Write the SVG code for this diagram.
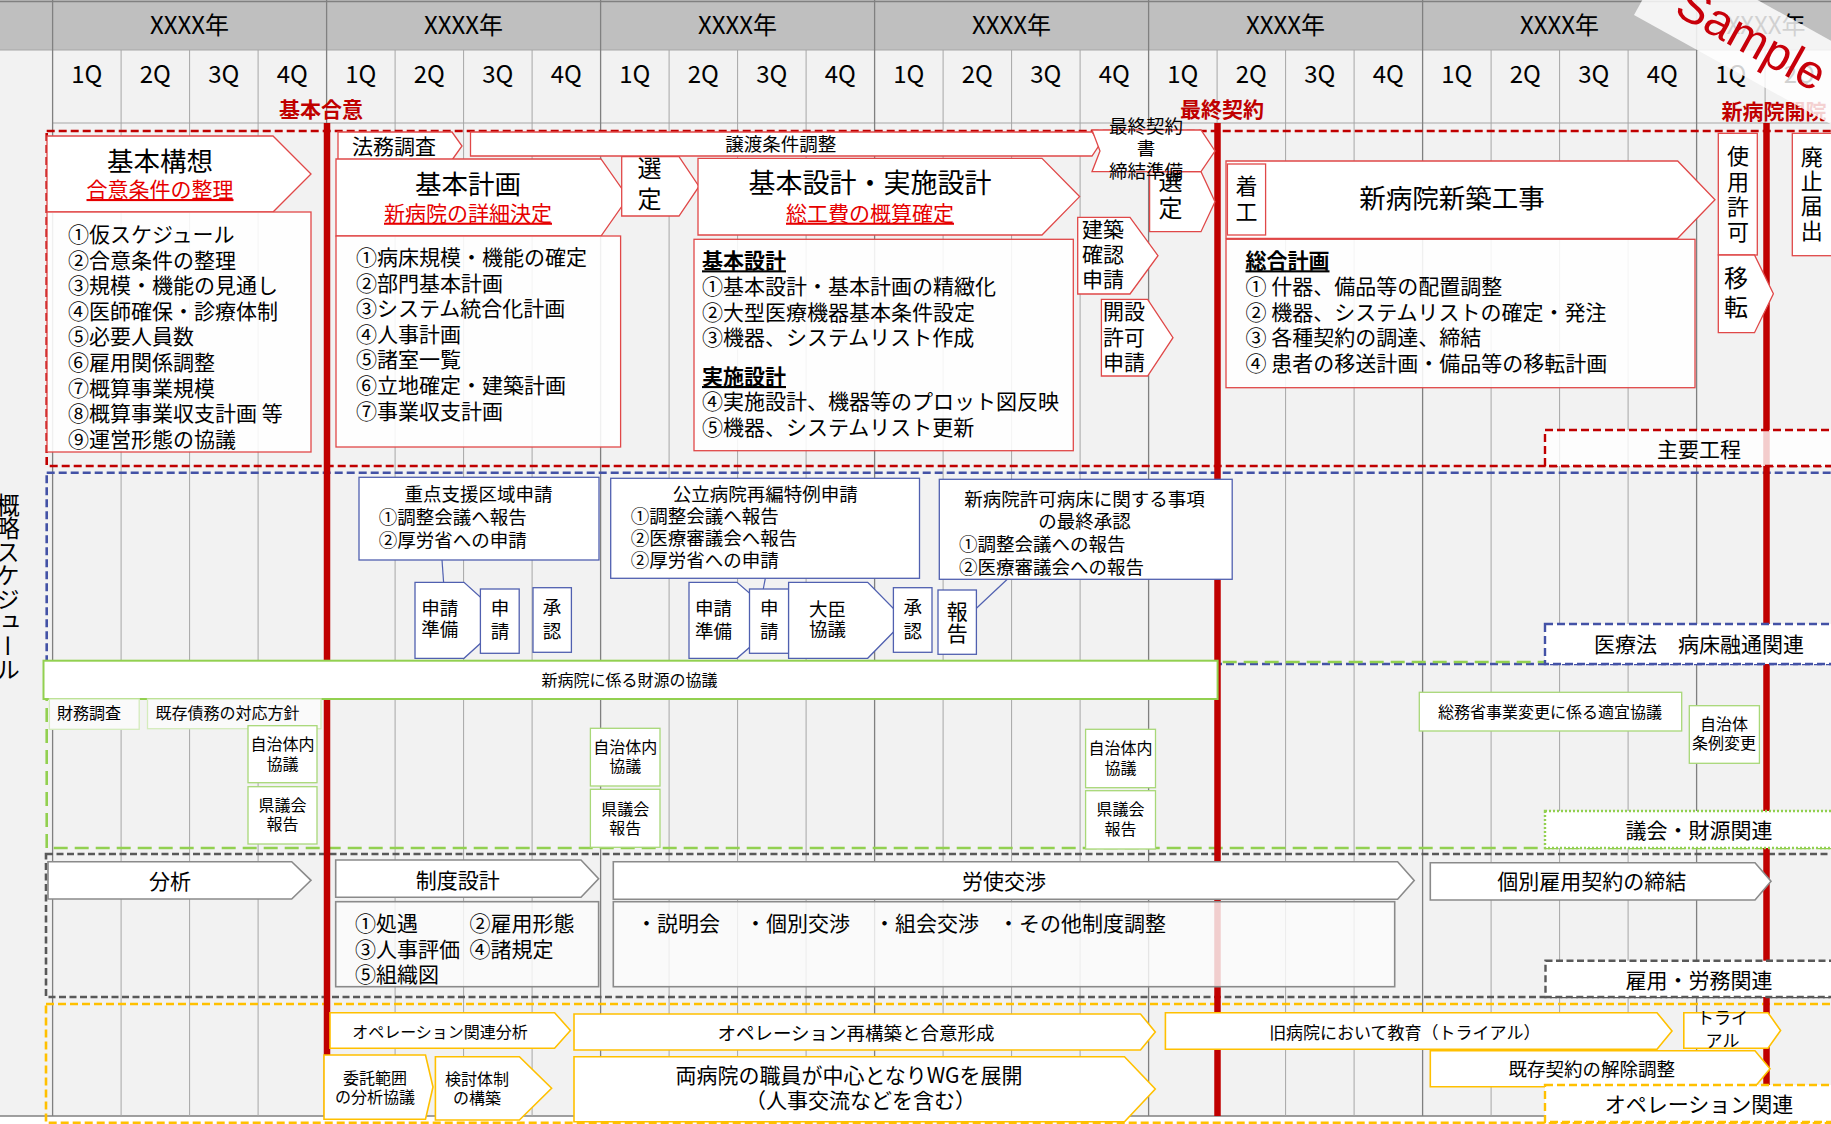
<svg xmlns="http://www.w3.org/2000/svg" width="1831" height="1124" viewBox="0 0 1831 1124">
<style>
text{font-family:"Noto Sans CJK JP","Noto Sans",sans-serif;fill:#000}
.c{text-anchor:middle;dominant-baseline:central}
.l{dominant-baseline:central}
.f16{font-size:16px}.f17{font-size:17px}.f18{font-size:18.5px}.f21{font-size:21px}.f22{font-size:22px}.f24{font-size:24px}.f27{font-size:26.5px}
.sub{fill:#e60000;text-decoration:underline;font-size:21px}
.hd{font-weight:bold;text-decoration:underline}
.mst{fill:#c00000;font-weight:bold;font-size:21px}
.vl{stroke:#a6a6a6;stroke-width:1;fill:none}
.yl{stroke:#808080;stroke-width:1.3;fill:none}
.ms{stroke:#c00000;stroke-width:6.5}
.rc{fill:#fff;stroke:#e04848;stroke-width:1.3}
.rb{fill:#fff;fill-opacity:.88;stroke:#e04848;stroke-width:1.3}
.bc{fill:#fff;stroke:#5060b0;stroke-width:1.3}
.gc{fill:#fff;stroke:#92d050;stroke-width:2}
.gl{fill:#fff;stroke:#a8d878;stroke-width:1.3}
.gs{fill:#fafafa;stroke:#d4ecbc;stroke-width:1.3}
.kc{fill:#fff;stroke:#8a8a8a;stroke-width:1.6}
.kb{fill:#fbfbfb;fill-opacity:.82;stroke:#8a8a8a;stroke-width:1.6}
.oc{fill:#fff;stroke:#ffc000;stroke-width:1.6}
.fr{fill:none;stroke-width:2.6}
.cn{stroke:#5060b0;stroke-width:1.2;fill:none}
.lab{fill:#fff;stroke-width:2.4}
</style>

<!-- background and grid -->
<g id="grid">
<rect x="0" y="0" width="1831" height="1124" fill="#fff"/>
<rect x="0" y="0" width="1831" height="1116" fill="#f2f2f2"/>
<rect x="0" y="0" width="1831" height="50" fill="#bfbfbf"/>
<line x1="0" y1="1.5" x2="1831" y2="1.5" stroke="#808080" stroke-width="1.5"/>
<line x1="0" y1="50" x2="1831" y2="50" class="vl"/>
<line x1="52.6" y1="123" x2="1831" y2="123" class="vl"/>
<line x1="0" y1="1116" x2="1831" y2="1116" stroke="#808080" stroke-width="1.3"/>
<path class="vl" d="M121.1 50V1116M189.6 50V1116M258.1 50V1116M395.1 50V1116M463.6 50V1116M532.1 50V1116M669.1 50V1116M737.6 50V1116M806.1 50V1116M943.1 50V1116M1011.6 50V1116M1080.1 50V1116M1217.1 50V1116M1285.6 50V1116M1354.1 50V1116M1491.1 50V1116M1559.6 50V1116M1628.1 50V1116M1765.1 50V1116"/>
<path class="yl" d="M52.6 0V1116M326.6 0V1116M600.6 0V1116M874.6 0V1116M1148.6 0V1116M1422.6 0V1116M1696.6 0V1116"/>
</g>

<g id="header">
<g class="c f24">
<text x="189.6" y="23">XXXX年</text><text x="463.6" y="23">XXXX年</text><text x="737.6" y="23">XXXX年</text><text x="1011.6" y="23">XXXX年</text><text x="1285.6" y="23">XXXX年</text><text x="1559.6" y="23">XXXX年</text><text x="1766" y="23">XXXX年</text>
<text x="86.85" y="72">1Q</text><text x="155.35" y="72">2Q</text><text x="223.85" y="72">3Q</text><text x="292.35" y="72">4Q</text>
<text x="360.85" y="72">1Q</text><text x="429.35" y="72">2Q</text><text x="497.85" y="72">3Q</text><text x="566.35" y="72">4Q</text>
<text x="634.85" y="72">1Q</text><text x="703.35" y="72">2Q</text><text x="771.85" y="72">3Q</text><text x="840.35" y="72">4Q</text>
<text x="908.85" y="72">1Q</text><text x="977.35" y="72">2Q</text><text x="1045.85" y="72">3Q</text><text x="1114.35" y="72">4Q</text>
<text x="1182.85" y="72">1Q</text><text x="1251.35" y="72">2Q</text><text x="1319.85" y="72">3Q</text><text x="1388.35" y="72">4Q</text>
<text x="1456.85" y="72">1Q</text><text x="1525.35" y="72">2Q</text><text x="1593.85" y="72">3Q</text><text x="1662.35" y="72">4Q</text>
<text x="1730.85" y="72">1Q</text><text x="1799.35" y="72">2Q</text>
</g>
<text class="c mst" x="321" y="107.5">基本合意</text>
<text class="c mst" x="1222" y="107.5">最終契約</text>
<text class="c mst" x="1774" y="109.5">新病院開院</text>
<text x="8" y="493" writing-mode="vertical-rl" style="font-size:23.5px">概略スケジュール</text>
</g>

<!-- section frames -->
<g id="frames">
<rect class="fr" x="46.7" y="131" width="1860" height="335" stroke="#c00000" stroke-dasharray="8 4"/>
<rect class="fr" x="46.7" y="472.7" width="1860" height="191.3" stroke="#4352a6" stroke-dasharray="8 4"/>
<rect class="fr" x="46.7" y="662" width="1860" height="186" stroke="#92d050" stroke-width="3" stroke-dasharray="14 7"/>
<rect class="fr" x="46" y="854" width="1860" height="143" stroke="#595959" stroke-width="3" stroke-dasharray="7 3.5"/>
<rect class="fr" x="46" y="1004" width="1860" height="118.7" stroke="#ffc000" stroke-dasharray="8 4"/>
</g>

<!-- milestone lines -->
<g id="milestones">
<line class="ms" x1="327" y1="123" x2="327" y2="1116"/>
<line class="ms" x1="1217.5" y1="123" x2="1217.5" y2="1116"/>
<line class="ms" x1="1766.5" y1="123" x2="1766.5" y2="1116"/>
</g>

<!-- main process (red) -->
<g id="kihon-koso">
<polygon class="rc" points="47,136 273,136 311,174 273,212 47,212"/>
<text class="c f27" x="160" y="159">基本構想</text>
<text class="c sub" x="160" y="188">合意条件の整理</text>
</g>
<g id="kihon-koso-list">
<rect class="rb" x="47" y="212" width="264" height="240"/>
<g class="l f21">
<text x="68" y="233">①仮スケジュール</text>
<text x="68" y="258.6">②合意条件の整理</text>
<text x="68" y="284.2">③規模・機能の見通し</text>
<text x="68" y="309.8">④医師確保・診療体制</text>
<text x="68" y="335.4">⑤必要人員数</text>
<text x="68" y="361">⑥雇用関係調整</text>
<text x="68" y="386.6">⑦概算事業規模</text>
<text x="68" y="412.2">⑧概算事業収支計画 等</text>
<text x="68" y="437.8">⑨運営形態の協議</text>
</g>
</g>
<g id="homu-chosa">
<polygon class="rc" points="338,132 452,132 462,146 452,160 338,160"/>
<text class="c f21" x="394" y="145">法務調査</text>
</g>
<g id="kihon-keikaku">
<polygon class="rc" points="336,159 601,159 628,197.5 601,236 336,236"/>
<text class="c f27" x="468" y="182.7">基本計画</text>
<text class="c sub" x="468" y="211.7">新病院の詳細決定</text>
</g>
<g id="kihon-keikaku-list">
<rect class="rb" x="336" y="236" width="284.6" height="211"/>
<g class="l f21">
<text x="356" y="256">①病床規模・機能の確定</text>
<text x="356" y="281.6">②部門基本計画</text>
<text x="356" y="307.2">③システム統合化計画</text>
<text x="356" y="332.8">④人事計画</text>
<text x="356" y="358.4">⑤諸室一覧</text>
<text x="356" y="384">⑥立地確定・建築計画</text>
<text x="356" y="409.6">⑦事業収支計画</text>
</g>
</g>
<g id="sentei-1">
<polygon class="rc" points="621.7,156.7 679,156.7 699,186.4 679,216 621.7,216"/>
<text class="c f24" x="649.4" y="166">選</text>
<text class="c f24" x="649.4" y="197">定</text>
</g>
<g id="joto-joken">
<polygon class="rc" points="470.5,132 1092,132 1100,144 1092,156 470.5,156"/>
<text class="c f18" x="780.7" y="142.5">譲渡条件調整</text>
</g>
<g id="kihon-jisshi-sekkei">
<polygon class="rc" points="698,158.3 1042,158.3 1079.6,196.6 1042,235 698,235"/>
<text class="c" style="font-size:27px" x="870" y="181.7">基本設計・実施設計</text>
<text class="c sub" x="870" y="211.7">総工費の概算確定</text>
</g>
<g id="sekkei-list">
<rect class="rb" x="694" y="239.3" width="379.3" height="211.4"/>
<g class="l f21">
<text class="hd" x="702" y="259.3">基本設計</text>
<text x="702" y="285">①基本設計・基本計画の精緻化</text>
<text x="702" y="310.7">②大型医療機器基本条件設定</text>
<text x="702" y="335.7">③機器、システムリスト作成</text>
<text class="hd" x="702" y="375">実施設計</text>
<text x="702" y="400">④実施設計、機器等のプロット図反映</text>
<text x="702" y="426">⑤機器、システムリスト更新</text>
</g>
</g>
<g id="kenchiku-kakunin">
<polygon class="rc" points="1077.7,217.3 1130,217.3 1158,255.7 1130,294 1077.7,294"/>
<text class="c f21" x="1103" y="228.3">建築</text>
<text class="c f21" x="1103" y="253.3">確認</text>
<text class="c f21" x="1103" y="278.3">申請</text>
</g>
<g id="kaisetsu-kyoka">
<polygon class="rc" points="1101.4,299.3 1147.6,299.3 1173,337.7 1147.6,376 1101.4,376"/>
<text class="c f21" x="1124" y="310">開設</text>
<text class="c f21" x="1124" y="336">許可</text>
<text class="c f21" x="1124" y="360.7">申請</text>
</g>
<g id="sentei-2">
<polygon class="rc" points="1149.6,171.7 1201,171.7 1215,201.7 1201,231.7 1149.6,231.7"/>
<text class="c f24" x="1170.6" y="179">選</text>
<text class="c f24" x="1170.6" y="206.7">定</text>
</g>
<g id="saishu-keiyaku-junbi">
<polygon class="rc" points="1092,130 1201,130 1215,151 1201,171.7 1092,171.7 1100,151"/>
<text class="c f18" x="1146" y="125">最終契約</text>
<text class="c f18" x="1146" y="146.7">書</text>
<text class="c f18" x="1146" y="170">締結準備</text>
</g>
<g id="shinchiku-koji">
<polygon class="rc" points="1226,161 1677.7,161 1715,199.7 1677.7,238.3 1226,238.3"/>
<text class="c f27" x="1452" y="196.7">新病院新築工事</text>
</g>
<g id="chakko">
<rect class="rc" x="1227.4" y="164" width="38.2" height="71"/>
<text class="c f22" x="1246.5" y="184">着</text>
<text class="c f22" x="1246.5" y="210">工</text>
</g>
<g id="sogo-keikaku">
<rect class="rb" x="1226" y="239.3" width="469" height="148.4"/>
<g class="l f21">
<text class="hd" x="1245.5" y="259.3">総合計画</text>
<text x="1245.5" y="285">① 什器、備品等の配置調整</text>
<text x="1245.5" y="310.7">② 機器、システムリストの確定・発注</text>
<text x="1245.5" y="335.7">③ 各種契約の調達、締結</text>
<text x="1245.5" y="361.7">④ 患者の移送計画・備品等の移転計画</text>
</g>
</g>
<g id="shiyo-kyoka">
<rect class="rc" x="1718.3" y="133.3" width="39" height="121.7"/>
<g class="c f22">
<text x="1738" y="154">使</text><text x="1738" y="180">用</text><text x="1738" y="205">許</text><text x="1738" y="230">可</text>
</g>
</g>
<g id="iten">
<polygon class="rc" points="1718.3,255 1754.5,255 1773.4,293.8 1754.5,332.7 1718.3,332.7"/>
<text class="c f24" x="1736" y="276.7">移</text>
<text class="c f24" x="1736" y="305">転</text>
</g>
<g id="haishi-todokede">
<rect class="rc" x="1792.3" y="133.3" width="50" height="122.4"/>
<g class="c f22">
<text x="1811.7" y="155">廃</text><text x="1811.7" y="179.3">止</text><text x="1811.7" y="204.3">届</text><text x="1811.7" y="229.3">出</text>
</g>
</g>

<!-- medical law (blue) -->
<g id="juten-shien">
<rect class="bc" x="359" y="477.3" width="240" height="82.7"/>
<text class="c f18" x="478.5" y="493.3">重点支援区域申請</text>
<text class="l f18" x="378.8" y="516">①調整会議へ報告</text>
<text class="l f18" x="378.8" y="539">②厚労省への申請</text>
</g>
<g id="shinsei-junbi-1">
<polygon class="bc" points="415,582.3 464,582.3 506,620.3 464,658.3 415,658.3"/>
<text class="c f18" x="439.7" y="606.7">申請</text>
<text class="c f18" x="439.7" y="628.3">準備</text>
</g>
<g id="shinsei-1">
<rect class="bc" x="480.4" y="589" width="38.8" height="64.3"/>
<text class="c f18" x="500" y="607.3">申</text>
<text class="c f18" x="500" y="630">請</text>
</g>
<g id="shonin-1">
<rect class="bc" x="533" y="587.7" width="38.4" height="64.6"/>
<text class="c f18" x="552" y="606">承</text>
<text class="c f18" x="552" y="630">認</text>
</g>
<g id="koritsu-saihen">
<rect class="bc" x="610.7" y="478.3" width="308.8" height="100"/>
<text class="c f18" x="765.3" y="493.3">公立病院再編特例申請</text>
<text class="l f18" x="630.8" y="515">①調整会議へ報告</text>
<text class="l f18" x="630.8" y="537.3">②医療審議会へ報告</text>
<text class="l f18" x="630.8" y="559">②厚労省への申請</text>
</g>
<g id="shinsei-junbi-2">
<polygon class="bc" points="689,582.3 737,582.3 781,620.3 737,658.3 689,658.3"/>
<text class="c f18" x="713.5" y="606.7">申請</text>
<text class="c f18" x="713.5" y="630">準備</text>
</g>
<g id="shinsei-2">
<rect class="bc" x="749.5" y="589" width="39.1" height="64.3"/>
<text class="c f18" x="769.2" y="607.3">申</text>
<text class="c f18" x="769.2" y="630">請</text>
</g>
<g id="daijin-kyogi">
<polygon class="bc" points="788.6,582.3 867.7,582.3 905,620.3 867.7,658.3 788.6,658.3"/>
<text class="c f18" x="827.4" y="607.7">大臣</text>
<text class="c f18" x="827.4" y="628.3">協議</text>
</g>
<g id="shonin-2">
<rect class="bc" x="893.4" y="587.7" width="38.6" height="64.6"/>
<text class="c f18" x="912.7" y="606">承</text>
<text class="c f18" x="912.7" y="630">認</text>
</g>
<g id="hokoku">
<rect class="bc" x="938" y="590" width="38.4" height="64.3"/>
<text class="c f21" x="957.3" y="610">報</text>
<text class="c f21" x="957.3" y="631.7">告</text>
</g>
<g id="kyoka-byosho">
<rect class="bc" x="939.3" y="479.3" width="292.9" height="100"/>
<text class="c f18" x="1084.4" y="498.3">新病院許可病床に関する事項</text>
<text class="c f18" x="1084.4" y="520">の最終承認</text>
<text class="l f18" x="959" y="543.3">①調整会議への報告</text>
<text class="l f18" x="959" y="565.7">②医療審議会への報告</text>
</g>

<!-- council / finance (green) -->
<g id="zaigen-kyogi">
<rect class="gc" x="43.5" y="660.7" width="1174.1" height="38.3"/>
<text class="c f16" x="629.5" y="679">新病院に係る財源の協議</text>
</g>
<g id="zaimu-chosa">
<rect class="gs" x="49.4" y="699" width="89.8" height="30.3"/>
<text class="c f16" x="89" y="712">財務調査</text>
</g>
<g id="kison-saimu">
<rect class="gs" x="147.5" y="699" width="173.5" height="29.7"/>
<text class="c f16" x="227.4" y="712">既存債務の対応方針</text>
</g>
<g id="jichitai-kyogi-1">
<rect class="gl" x="248" y="725.7" width="69" height="57"/>
<text class="c f16" x="282.5" y="743.3">自治体内</text>
<text class="c f16" x="282.5" y="762.7">協議</text>
</g>
<g id="kengikai-1">
<rect class="gl" x="248" y="786.7" width="69" height="57.3"/>
<text class="c f16" x="282.5" y="804.3">県議会</text>
<text class="c f16" x="282.5" y="823.3">報告</text>
</g>
<g id="jichitai-kyogi-2">
<rect class="gl" x="590.4" y="728.3" width="69.6" height="57.7"/>
<text class="c f16" x="625.2" y="746">自治体内</text>
<text class="c f16" x="625.2" y="765.3">協議</text>
</g>
<g id="kengikai-2">
<rect class="gl" x="590.4" y="789.3" width="69.6" height="58"/>
<text class="c f16" x="625.2" y="807.7">県議会</text>
<text class="c f16" x="625.2" y="826.7">報告</text>
</g>
<g id="jichitai-kyogi-3">
<rect class="gl" x="1085.6" y="729.3" width="69.9" height="58.4"/>
<text class="c f16" x="1120.5" y="747">自治体内</text>
<text class="c f16" x="1120.5" y="766.7">協議</text>
</g>
<g id="kengikai-3">
<rect class="gl" x="1085.6" y="790.7" width="69.9" height="58.3"/>
<text class="c f16" x="1120.5" y="808.3">県議会</text>
<text class="c f16" x="1120.5" y="827.7">報告</text>
</g>
<g id="somusho-kyogi">
<rect class="gl" x="1419.3" y="692.3" width="262.4" height="38.7"/>
<text class="c f16" x="1550" y="711">総務省事業変更に係る適宜協議</text>
</g>
<g id="jorei-henko">
<rect class="gl" x="1689.3" y="705.7" width="70.1" height="57.6"/>
<text class="c f16" x="1724" y="723.3">自治体</text>
<text class="c f16" x="1724" y="741.7">条例変更</text>
</g>

<!-- employment (gray) -->
<g id="bunseki">
<polygon class="kc" points="48,861.7 291.7,861.7 311,880.3 291.7,899 48,899"/>
<text class="c f21" x="170" y="880">分析</text>
</g>
<g id="seido-sekkei">
<polygon class="kc" points="335.7,860 581,860 598.6,878.7 581,897.3 335.7,897.3"/>
<text class="c f21" x="457.7" y="878.7">制度設計</text>
</g>
<g id="seido-list">
<rect class="kb" x="335.7" y="901.7" width="262.9" height="85"/>
<g class="l f21">
<text x="355" y="921.7">①処遇</text><text x="469.5" y="921.7">②雇用形態</text>
<text x="355" y="948.3">③人事評価</text><text x="469.5" y="948.3">④諸規定</text>
<text x="355" y="973.3">⑤組織図</text>
</g>
</g>
<g id="roshi-kosho">
<polygon class="kc" points="613.3,861.7 1397.6,861.7 1414.2,880.5 1397.6,899.3 613.3,899.3"/>
<text class="c f21" x="1004" y="880">労使交渉</text>
</g>
<g id="roshi-list">
<rect class="kb" x="613.3" y="901.7" width="781.4" height="85"/>
<g class="l f21">
<text x="636" y="921.7">・説明会</text>
<text x="745" y="921.7">・個別交渉</text>
<text x="874" y="921.7">・組会交渉</text>
<text x="998" y="921.7">・その他制度調整</text>
</g>
</g>
<g id="koyo-keiyaku">
<polygon class="kc" points="1430.3,862.7 1755,862.7 1771,881.3 1755,900 1430.3,900"/>
<text class="c f21" x="1591.8" y="880">個別雇用契約の締結</text>
</g>

<!-- operations (orange) -->
<g id="ope-bunseki">
<polygon class="oc" points="330,1012.7 554.6,1012.7 570.4,1030.5 554.6,1048.3 330,1048.3"/>
<text class="c f16" x="440" y="1030.5">オペレーション関連分析</text>
</g>
<g id="ope-saikochiku">
<polygon class="oc" points="574,1014 1140.5,1014 1155.3,1032 1140.5,1050 574,1050"/>
<text class="c f18" x="856" y="1031.5">オペレーション再構築と合意形成</text>
</g>
<g id="kyu-byoin-kyoiku">
<polygon class="oc" points="1165.4,1012.7 1657,1012.7 1672,1031 1657,1049.3 1165.4,1049.3"/>
<text class="c f17" x="1404.8" y="1031">旧病院において教育（トライアル）</text>
</g>
<g id="trial">
<polygon class="oc" points="1683.8,1012.7 1768,1012.7 1780.6,1030.5 1768,1048.3 1683.8,1048.3"/>
<text class="c f17" x="1722.5" y="1016.7">トライ</text>
<text class="c f17" x="1722.5" y="1039.3">アル</text>
</g>
<g id="itaku-han-i">
<polygon class="oc" points="324,1055 425.5,1055 433,1087 425.5,1119.3 324,1119.3"/>
<text class="c f16" x="375" y="1076.7">委託範囲</text>
<text class="c f16" x="375" y="1096">の分析協議</text>
</g>
<g id="kento-taisei">
<polygon class="oc" points="435.4,1056.7 519.4,1056.7 551.6,1088.3 519.4,1120 435.4,1120"/>
<text class="c f16" x="477" y="1078.3">検討体制</text>
<text class="c f16" x="477" y="1096.7">の構築</text>
</g>
<g id="wg-tenkai">
<polygon class="oc" points="574,1056.7 1124.5,1056.7 1155.3,1089 1124.5,1121.7 574,1121.7"/>
<text class="c f21" x="849" y="1074.3">両病院の職員が中心となりWGを展開</text>
<text class="c f21" x="860.6" y="1099">（人事交流などを含む）</text>
</g>
<g id="kison-keiyaku-kaijo">
<polygon class="oc" points="1430.3,1050.7 1755,1050.7 1770,1068.7 1755,1086.7 1430.3,1086.7"/>
<text class="c f18" x="1591.8" y="1067.5">既存契約の解除調整</text>
</g>

<!-- connectors -->
<g id="connectors">
<line class="cn" x1="442" y1="560" x2="443.6" y2="582.3"/>
<line class="cn" x1="765.3" y1="578.3" x2="763.3" y2="589"/>
<line class="cn" x1="976.4" y1="608.3" x2="1007.3" y2="579.3"/>
</g>

<!-- section labels -->
<g id="label-shuyo-kotei">
<rect class="lab" x="1545" y="430" width="300" height="36" fill-opacity=".8" stroke="#c00000" stroke-dasharray="8 4"/>
<text class="c f21" x="1699" y="447.5">主要工程</text>
</g>
<g id="label-iryoho">
<rect class="lab" x="1545" y="624" width="300" height="40" stroke="#4352a6" stroke-dasharray="8 4"/>
<text class="c f21" x="1699" y="642.5">医療法　病床融通関連</text>
</g>
<g id="label-gikai">
<rect class="lab" x="1545" y="811" width="300" height="37" stroke="#92d050" stroke-width="1.2" stroke-dasharray="2 2"/>
<text class="c f21" x="1699" y="829">議会・財源関連</text>
</g>
<g id="label-koyo">
<rect class="lab" x="1545.5" y="960.7" width="300" height="36.3" stroke="#595959" stroke-dasharray="7 3.5"/>
<text class="c f21" x="1699" y="978.5">雇用・労務関連</text>
</g>
<g id="label-ope">
<rect class="lab" x="1545" y="1085" width="300" height="37" stroke="#ffc000" stroke-dasharray="8 4"/>
<text class="c f21" x="1699" y="1102.5">オペレーション関連</text>
</g>

<!-- watermark -->
<g id="watermark" transform="translate(1634,15) rotate(29)">
<rect x="0" y="-73" width="320" height="73" fill="#fff" fill-opacity=".82"/>
<text x="33" y="-20" style="font-family:'Liberation Sans',sans-serif;font-size:48px;fill:#c8000a">Sample</text>
</g>
</svg>
